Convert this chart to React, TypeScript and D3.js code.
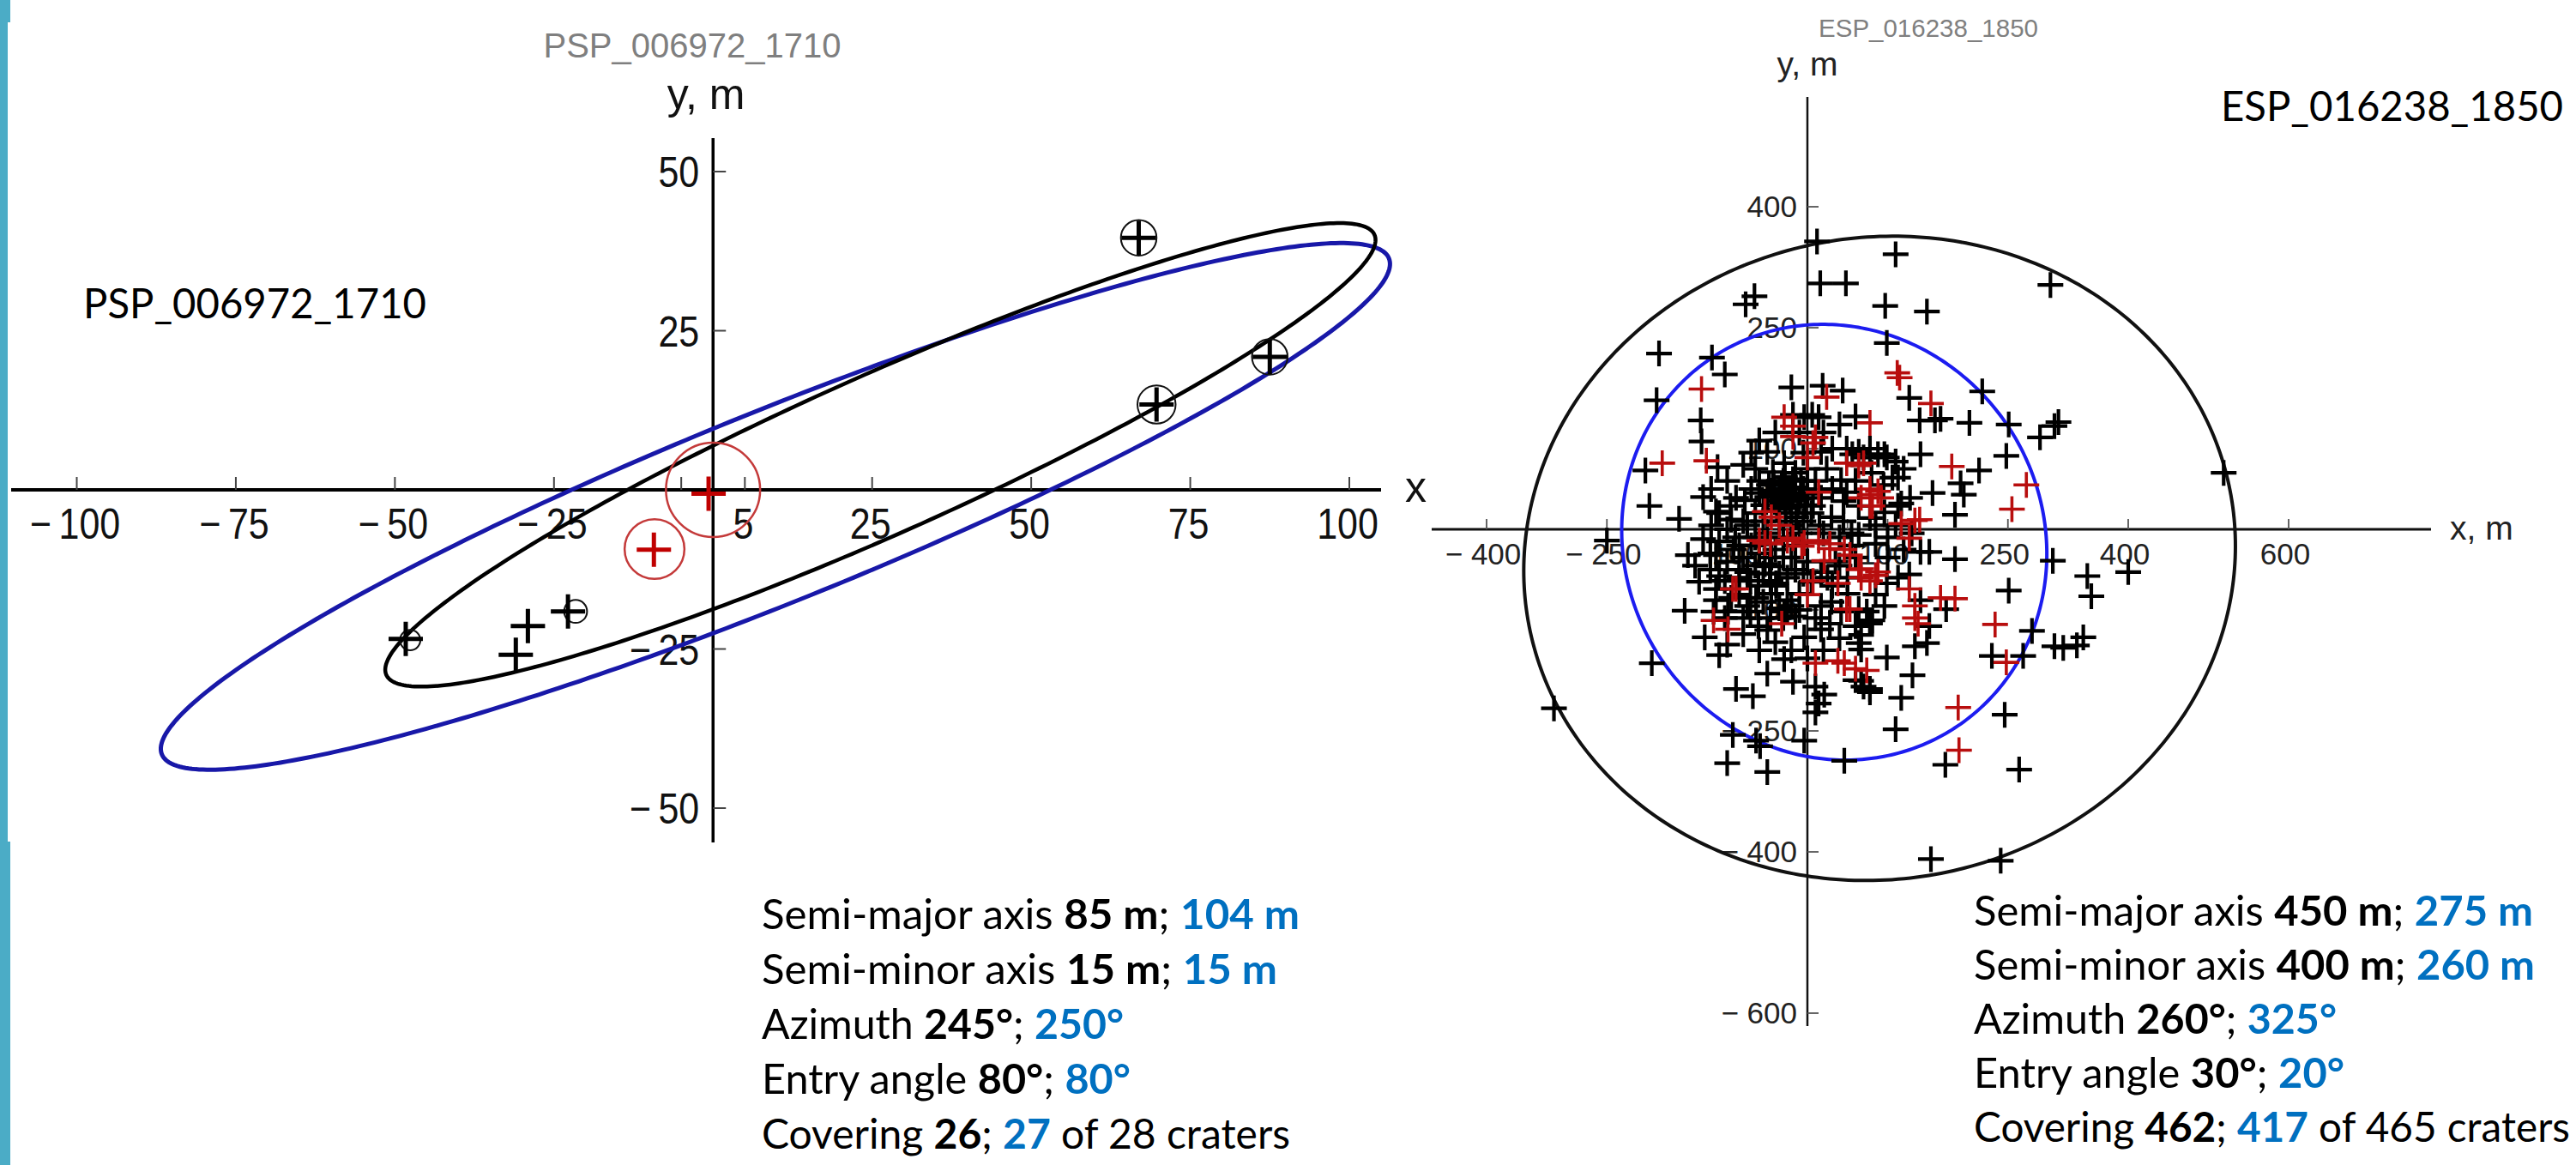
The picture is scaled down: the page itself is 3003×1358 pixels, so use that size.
import React from "react";
import * as d3 from "d3";

// ---- left panel: PSP_006972_1710 ----
const leftXTicks = [-100, -75, -50, -25, 5, 25, 50, 75, 100];
const leftXMinor = [-5];
const leftYTicks = [50, 25, -25, -50];
// [cx, cy, semi-major, semi-minor, angle deg]
const leftBlackEllipse = [26.3, 5.5, 85, 12.5, 24];
const leftBlueEllipse = [9.8, -2.6, 104, 15, 22];
const leftBlack = [
  [66.9, 39.6], [87.5, 20.9], [69.7, 13.4], [-48.3, -23.4],
  [-29.1, -21.4], [-31.0, -25.9], [-22.8, -19.1],
];
// [x, y, r] rings around black craters
const leftBlackRings = [
  [66.9, 39.6, 2.8], [87.5, 20.9, 2.8], [69.7, 13.4, 3.0],
  [-47.6, -23.6, 1.6], [-21.6, -19.1, 1.8],
];
const leftRed = [[-0.7, -0.6], [-9.3, -9.4]];
const leftRedRings = [[0, 0, 7.4], [-9.2, -9.3, 4.7]];

// ---- right panel: ESP_016238_1850 ----
const rightXTicks = [-400, -250, -100, -50, 50, 100, 250, 400, 600];
const rightXLabels = [-400, -250, -100, 100, 250, 400, 600];
const rightYTicks = [400, 250, 100, 50, -50, -100, -250, -400, -600];
const rightYLabels = [400, 250, 100, 50, -100, -250, -400, -600];
const rightBlackEllipse = [90, -36, 445, 398, 10];
const rightBlueEllipse = [33.5, -16, 275, 260, 125];

const rightBlack = [
  [12, 357], [16, 305], [48, 305], [-66, 289], [-77, 279], [110, 341], [303, 303], [97, 277], [149, 270], [99, 231],
  [-185, 218], [-119, 213], [-103, 192], [-188, 160], [-133, 135], [-132, 109], [-202, 73], [-112, 77], [-197, 29], [-160, 13], [-110, 20],
  [-20, 176], [19, 178], [44, 172], [-18, 142], [6, 142], [-4, 139], [14, 139],
  [127, 163], [218, 171], [140, 135], [159, 135], [166, 137], [202, 132], [251, 130], [313, 133], [290, 114], [308, 128], [519, 70],
  [141, 93], [248, 91], [214, 73], [191, 57], [195, 43], [156, 45], [184, 18], [56, 93], [70, 89], [88, 93], [99, 89], [113, 64], [117, 32],
  [-50, 96], [-29, 82], [-43, 71], [17, 96], [31, 100], [49, 100], [64, 96], [78, 100], [96, 93], [110, 84], [106, 64], [120, 75],
  [24, 75], [42, 61], [31, 50], [49, 46], [-89, 39], [-78, 36], [-114, 22], [-96, 29], [7, 29], [17, 39], [64, 29], [78, 14], [96, 21], [113, 29], [128, 39],
  [-25, 43], [-35, 50], [-15, 52], [-40, 35], [-10, 38], [-30, 60], [-20, 28], [-45, 48], [-5, 50], [-28, 35], [-18, 62], [-38, 25], [-12, 30], [-32, 42],
  [-22, 50], [-50, 40], [0, 44], [-27, 20], [-14, 15], [-42, 58], [-8, 60], [-35, 10], [-55, 30], [-20, 5], [-60, 45], [5, 20], [-30, -10], [-10, -5],
  [-18, 40], [-32, 55], [-42, 42], [-22, 35], [-8, 45], [-28, 65], [-48, 55], [-15, 70], [-36, 30], [-3, 30],
  [-60, 110], [-40, 120], [-10, 120], [20, 120], [40, 130], [60, 140], [-80, 80], [-70, 95], [-100, 60], [-120, 50], [-130, 40],
  [0, 75], [10, 60], [-5, 95], [-65, 75], [80, 70], [95, 55], [60, 60], [45, 35], [85, 5], [100, -10], [55, -5],
  [-60, 60], [-70, 50], [-65, 20], [-80, 10], [-100, 0], [-110, -15], [-85, -20], [-65, -45], [-55, -55], [-35, -55], [-25, -60],
  [-15, -50], [-5, -55], [5, -65], [25, -60], [40, -45], [55, -20], [45, 10], [30, 15], [15, 5], [-5, 10], [-15, -20], [-30, -35],
  [-45, -35], [-65, -10], [-85, -60], [-95, -85], [-80, -110], [-55, -90], [-45, -80], [-10, -80], [10, -110], [30, -90], [50, -80],
  [60, -120], [40, -135], [20, -150], [0, -160], [-20, -150], [-40, -140], [-60, -150], [-80, -130], [-50, -125],
  [-250, -14], [-149, -32], [-121, -30], [-135, -65], [-110, -58], [-153, -101], [-117, -102], [-128, -134], [-100, -143], [-110, -156], [-194, -166], [-316, -222],
  [-29, -161], [-50, -179], [-89, -198], [-68, -207], [-18, -189], [10, -195], [21, -205], [14, -216], [10, -227],
  [-93, -255], [-64, -262], [-59, -269], [-100, -290], [-50, -301], [-4, -262], [46, -287], [67, -188], [78, -198], [64, -141], [67, -131],
  [-75, -95], [-61, -120], [-25, -102], [-4, -134], [17, -124], [28, -117], [78, -117], [-85, -81], [-61, -70], [-39, -67], [-114, -88], [-103, -110], [-75, -53], [-47, -46],
  [-20, -95], [-30, -110], [-15, -108], [-35, -98], [-25, -88], [-10, -100],
  [-90, -10], [-70, -20], [-50, -5], [-100, -40], [-80, -35], [-60, -30], [-40, -25], [-20, -35], [0, -40], [-130, -12], [-140, -45], [-75, 5], [-55, 10], [-95, 12], [-120, 5],
  [20, -5], [40, -10], [100, -35], [120, -25], [60, -35], [110, 5], [130, -5], [35, -40], [50, -60],
  [152, -28], [184, -37], [306, -39], [349, -58], [354, -83], [400, -53], [251, -76], [280, -126], [308, -145], [319, -147], [344, -134], [336, -144],
  [230, -157], [269, -157], [246, -230], [110, -248], [172, -292], [264, -298], [154, -409], [241, -411],
  [141, -28], [127, -56], [141, -88], [173, -99], [152, -120], [134, -145], [149, -141], [99, -159], [131, -181], [67, -149], [74, -102], [81, -113],
  [117, -209], [70, -195], [60, -187], [78, -202],
  [-114, -32], [-92, -25], [-121, -50], [-103, -64], [-85, -50], [-71, -64], [-53, -43], [-46, -64], [-64, -85], [-39, -70], [-114, -74],
  [-29, -102], [-46, -110], [-71, -102], [-99, -102],
  [17, -53], [31, -70], [17, -95], [42, -102], [64, -99], [85, -81], [99, -67], [113, -60], [96, -95], [78, -113], [64, -7], [85, -18],
];

const rightRed = [
  [-132, 174], [-181, 82], [-126, 85], [-29, 139], [24, 164], [78, 132], [-18, 115], [-18, 128], [7, 107], [0, 89], [10, 114],
  [115, 188], [112, 194], [154, 156], [180, 78], [273, 55], [255, 25], [70, 82], [88, 47], [67, 39], [134, 11], [140, 12],
  [49, 82], [64, 79], [78, 43], [92, 39], [78, 29], [-53, 22], [14, 46], [-45, 15], [-35, 5], [78, 50], [81, 29],
  [-60, -14], [-46, -18], [-18, -11], [-7, -21], [14, -14], [28, -18], [46, -25], [21, -39], [-53, -17], [-25, -14], [-4, -17], [28, -24], [53, -32],
  [64, -50], [85, -57], [134, -95], [127, -11], [117, 7], [7, -64], [0, -81], [-89, -74], [-99, -124],
  [10, -166], [46, -166], [38, -163], [-93, -74], [-117, -113], [-32, -117], [67, -60], [38, -67], [78, -64], [49, -99],
  [166, -85], [184, -86], [234, -118], [248, -165], [188, -221], [189, -274], [134, -110], [138, -117], [88, -53], [67, -49], [53, -99], [127, -74],
  [60, -173], [74, -175],
];

// ---- captions ----
type Run = [string, "n" | "b" | "blue"];
const leftCaption: Run[][] = [
  [["Semi-major axis ", "n"], ["85 m", "b"], ["; ", "n"], ["104 m", "blue"]],
  [["Semi-minor axis ", "n"], ["15 m", "b"], ["; ", "n"], ["15 m", "blue"]],
  [["Azimuth ", "n"], ["245°", "b"], ["; ", "n"], ["250°", "blue"]],
  [["Entry angle ", "n"], ["80°", "b"], ["; ", "n"], ["80°", "blue"]],
  [["Covering ", "n"], ["26", "b"], ["; ", "n"], ["27", "blue"], [" of 28 craters", "n"]],
];
const rightCaption: Run[][] = [
  [["Semi-major axis ", "n"], ["450 m", "b"], ["; ", "n"], ["275 m", "blue"]],
  [["Semi-minor axis ", "n"], ["400 m", "b"], ["; ", "n"], ["260 m", "blue"]],
  [["Azimuth ", "n"], ["260°", "b"], ["; ", "n"], ["325°", "blue"]],
  [["Entry angle ", "n"], ["30°", "b"], ["; ", "n"], ["20°", "blue"]],
  [["Covering ", "n"], ["462", "b"], ["; ", "n"], ["417", "blue"], [" of 465 craters", "n"]],
];
const leftCaptionWidths = [627, 601, 422, 430, 616];
const rightCaptionWidths = [652, 654, 423, 432, 695];

const CAL = "Lato, 'Open Sans', sans-serif";
const MATH = "'Liberation Sans', Arial, sans-serif";
const BLUE_TXT = "#0070c0";

const LX = d3.scaleLinear().domain([-100, 100]).range([89.5, 1573]);
const LY = d3.scaleLinear().domain([-50, 50]).range([942, 200]);
const RX = d3.scaleLinear().domain([0, 400]).range([2107, 2481]);
const RY = d3.scaleLinear().domain([0, 400]).range([617, 241]);

function ellipsePath(e: number[], sx: any, sy: any) {
  const [cx, cy, a, b, ang] = e;
  const th = (ang * Math.PI) / 180;
  const pts = d3.range(0, 360, 1).map((deg) => {
    const t = (deg * Math.PI) / 180;
    const x = cx + a * Math.cos(t) * Math.cos(th) - b * Math.sin(t) * Math.sin(th);
    const y = cy + a * Math.cos(t) * Math.sin(th) + b * Math.sin(t) * Math.cos(th);
    return [sx(x), sy(y)] as [number, number];
  });
  return d3.line().curve(d3.curveLinearClosed)(pts) || "";
}

const cross = (x: number, y: number, s: number) => `M${x - s},${y}H${x + s}M${x},${y - s}V${y + s}`;
const fmt = (v: number, sp: string) => (v < 0 ? `\u2212${sp}${Math.abs(v)}` : `${v}`);

function Caption({ lines, widths, x, y0, dy }: { lines: Run[][]; widths: number[]; x: number; y0: number; dy: number }) {
  return (
    <g fontFamily={CAL} fontSize={48}>
      {lines.map((runs, i) => (
        <text key={i} x={x} y={y0 + i * dy} textLength={widths[i]} lengthAdjust="spacingAndGlyphs" style={{ whiteSpace: "pre" }}>
          {runs.map(([t, k], j) => (
            <tspan key={j} fontWeight={k === "n" ? 400 : 700} fill={k === "blue" ? BLUE_TXT : "#000"}>
              {t}
            </tspan>
          ))}
        </text>
      ))}
    </g>
  );
}

export default function App() {
  const lx0 = LX(0), ly0 = LY(0), rx0 = RX(0), ry0 = RY(0);
  return (
    <svg width={3003} height={1358} style={{ position: "absolute", left: 0, top: 0, background: "#fff" }}>
      <rect x={0} y={0} width={3003} height={1358} fill="#fff" />
      {/* slide edge bar */}
      <rect x={0} y={0} width={12} height={26} fill="#4bacc6" />
      <rect x={0} y={26} width={9} height={955} fill="#4bacc6" />
      <rect x={0} y={981} width={12} height={377} fill="#4bacc6" />

      {/* ===== LEFT ===== */}
      <text x={807} y={67} textAnchor="middle" fontFamily={MATH} fontSize={40} fill="#7f7f7f">PSP_006972_1710</text>
      <text x={823} y={127} textAnchor="middle" fontFamily={MATH} fontSize={50} fill="#111">y, m</text>
      <text x={97} y={371} fontFamily={CAL} fontSize={48} textLength={400} lengthAdjust="spacingAndGlyphs">PSP_006972_1710</text>

      <line x1={13} x2={1610} y1={ly0} y2={ly0} stroke="#000" strokeWidth={4} />
      <line x1={lx0} x2={lx0} y1={161} y2={982} stroke="#000" strokeWidth={3.5} />
      {leftXTicks.concat(leftXMinor).map((t) => (
        <line key={"lxt" + t} x1={LX(t)} x2={LX(t)} y1={ly0} y2={ly0 - 15} stroke="#444" strokeWidth={2} />
      ))}
      {leftYTicks.map((t) => (
        <line key={"lyt" + t} x1={lx0} x2={lx0 + 15} y1={LY(t)} y2={LY(t)} stroke="#444" strokeWidth={2} />
      ))}
      {leftXTicks.map((t) => (
        <text key={"lxl" + t} transform={`translate(${LX(t) - 2},${ly0 + 57}) scale(0.86,1)`} textAnchor="middle" fontFamily={MATH} fontSize={50} fill="#111">
          {fmt(t, "\u2009")}
        </text>
      ))}
      {leftYTicks.map((t) => (
        <text key={"lyl" + t} transform={`translate(${lx0 - 16},${LY(t) + 18}) scale(0.86,1)`} textAnchor="end" fontFamily={MATH} fontSize={50} fill="#111">
          {fmt(t, "\u2009")}
        </text>
      ))}
      <text x={1638} y={585} fontFamily={MATH} fontSize={50} fill="#111">x</text>

      <path d={ellipsePath(leftBlueEllipse, LX, LY)} fill="none" stroke="#1818a8" strokeWidth={5} />
      <path d={ellipsePath(leftBlackEllipse, LX, LY)} fill="none" stroke="#000" strokeWidth={4.5} />
      {leftBlackRings.map(([x, y, r], i) => (
        <circle key={"lbr" + i} cx={LX(x)} cy={LY(y)} r={LX(r) - lx0} fill="none" stroke="#111" strokeWidth={2} />
      ))}
      {leftBlack.map(([x, y], i) => (
        <path key={"lb" + i} d={cross(LX(x), LY(y), 20)} stroke="#000" strokeWidth={5} />
      ))}
      {leftRedRings.map(([x, y, r], i) => (
        <circle key={"lrr" + i} cx={LX(x)} cy={LY(y)} r={LX(r) - lx0} fill="none" stroke="#c43a3a" strokeWidth={2.5} />
      ))}
      {leftRed.map(([x, y], i) => (
        <path key={"lr" + i} d={cross(LX(x), LY(y), 20)} stroke="#c00000" strokeWidth={5} />
      ))}

      {/* ===== RIGHT ===== */}
      <text x={2248} y={43} textAnchor="middle" fontFamily={MATH} fontSize={29.5} fill="#7f7f7f">ESP_016238_1850</text>
      <text x={2107} y={88} textAnchor="middle" fontFamily={MATH} fontSize={39} fill="#222">y, m</text>
      <text x={2589} y={141} fontFamily={CAL} fontSize={48} textLength={399} lengthAdjust="spacingAndGlyphs">ESP_016238_1850</text>

      <line x1={1669} x2={2834} y1={ry0} y2={ry0} stroke="#111" strokeWidth={3} />
      <line x1={rx0} x2={rx0} y1={113} y2={1196} stroke="#111" strokeWidth={2.5} />
      {rightXTicks.map((t) => (
        <line key={"rxt" + t} x1={RX(t)} x2={RX(t)} y1={ry0} y2={ry0 - 12} stroke="#555" strokeWidth={1.8} />
      ))}
      {rightYTicks.map((t) => (
        <line key={"ryt" + t} x1={rx0} x2={rx0 + 13} y1={RY(t)} y2={RY(t)} stroke="#555" strokeWidth={1.8} />
      ))}
      {rightXLabels.map((t) => (
        <text key={"rxl" + t} x={RX(t) - 4} y={ry0 + 41} textAnchor="middle" fontFamily={MATH} fontSize={35} fill="#222">
          {fmt(t, " ")}
        </text>
      ))}
      {rightYLabels.map((t) => (
        <text key={"ryl" + t} x={rx0 - 12} y={RY(t) + 12} textAnchor="end" fontFamily={MATH} fontSize={35} fill="#222">
          {fmt(t, " ")}
        </text>
      ))}
      <text x={2856} y={629} fontFamily={MATH} fontSize={39} fill="#222">x, m</text>

      <path d={ellipsePath(rightBlackEllipse, RX, RY)} fill="none" stroke="#111" strokeWidth={4} />
      <path d={ellipsePath(rightBlueEllipse, RX, RY)} fill="none" stroke="#1c1cf0" strokeWidth={4} />
      {rightBlack.map(([x, y], i) => (
        <path key={"rb" + i} d={cross(RX(x), RY(y), 15)} stroke="#000" strokeWidth={4.2} />
      ))}
      {rightRed.map(([x, y], i) => (
        <path key={"rr" + i} d={cross(RX(x), RY(y), 15)} stroke="#b80e0e" strokeWidth={3.6} />
      ))}

      {/* captions */}
      <Caption lines={leftCaption} widths={leftCaptionWidths} x={888} y0={1083} dy={64} />
      <Caption lines={rightCaption} widths={rightCaptionWidths} x={2301} y0={1079} dy={63} />
    </svg>
  );
}
